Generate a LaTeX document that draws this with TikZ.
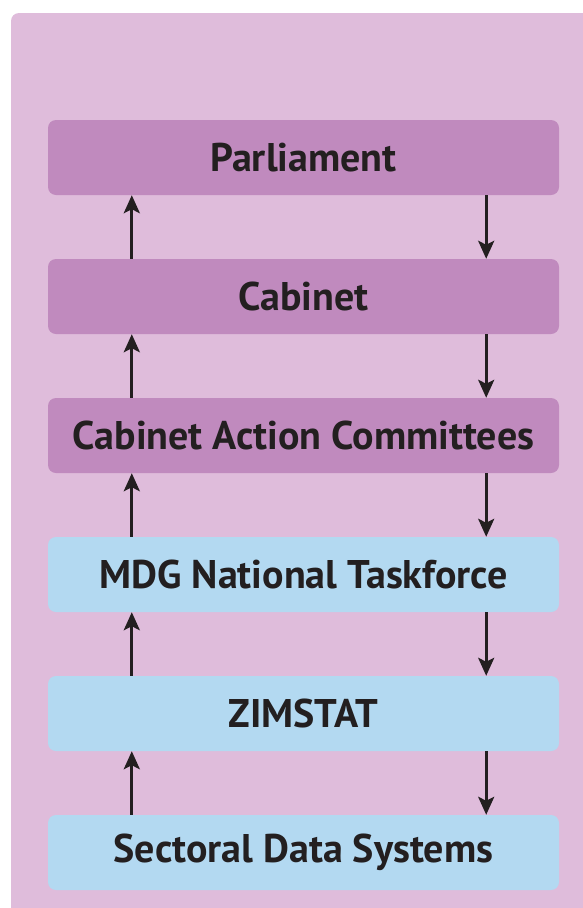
\documentclass[tikz,border=0pt]{standalone}
\usepackage{fontspec}
\setmainfont{PT Sans}
\usetikzlibrary{arrows.meta}
\definecolor{bgpink}{RGB}{223,188,219}
\definecolor{boxpurple}{RGB}{192,138,190}
\definecolor{boxblue}{RGB}{179,217,241}
\definecolor{textdark}{RGB}{35,31,32}
\tikzset{
  box/.style={rectangle, rounded corners=8pt, minimum width=511pt, minimum height=75pt,
    inner sep=0pt, text=textdark, font=\fontsize{40}{48}\selectfont\bfseries},
  pbox/.style={box, fill=boxpurple},
  bbox/.style={box, fill=boxblue},
  arr/.style={draw=textdark, line width=3pt, -{Stealth[length=18pt,width=16pt,inset=4pt]}}
}
\begin{document}
\begin{tikzpicture}[x=1pt,y=1pt]
\useasboundingbox (0,0) rectangle (583,-908);
\begin{scope}
\clip (0,0) rectangle (583,-908);
\fill[bgpink, rounded corners=8pt] (11,-13) rectangle (600,-930);
\end{scope}
\node[pbox] (parl) at (303.5,-157.5) {Parliament};
\node[pbox] (cab) at (303.5,-296.5) {Cabinet};
\node[pbox] (cac) at (303.5,-435.5) {Cabinet Action Committees};
\node[bbox] (mdg) at (303.5,-574.5) {MDG National Taskforce};
\node[bbox] (zim) at (303.5,-713.5) {ZIMSTAT};
\node[bbox] (sec) at (303.5,-852.5) {Sectoral Data Systems};
\foreach \lo/\hi in {cab/parl, cac/cab, mdg/cac, zim/mdg, sec/zim}{
  \draw[arr] ([xshift=84pt]\lo.north west) -- ([xshift=84pt]\hi.south west);
  \draw[arr] ([xshift=-73pt]\hi.south east) -- ([xshift=-73pt]\lo.north east);
}
\end{tikzpicture}
\end{document}
